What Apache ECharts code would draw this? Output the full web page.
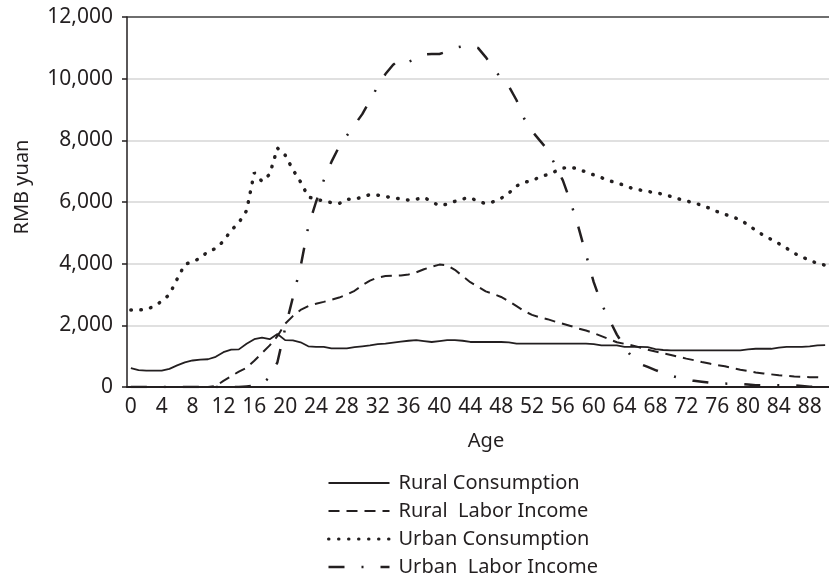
<!DOCTYPE html>
<html>
<head>
<meta charset="utf-8">
<script src="https://cdn.jsdelivr.net/npm/echarts@6/dist/echarts.min.js"></script>
<style>
  html, body { margin: 0; padding: 0; background: #fff; }
  #main { width: 829px; height: 577px; }
</style>
</head>
<body>
<div id="main"></div>
<script>
// ages 0..90
var ages = ['0','1','2','3','4','5','6','7','8','9',
  '10','11','12','13','14','15','16','17','18','19',
  '20','21','22','23','24','25','26','27','28','29',
  '30','31','32','33','34','35','36','37','38','39',
  '40','41','42','43','44','45','46','47','48','49',
  '50','51','52','53','54','55','56','57','58','59',
  '60','61','62','63','64','65','66','67','68','69',
  '70','71','72','73','74','75','76','77','78','79',
  '80','81','82','83','84','85','86','87','88','89','90'];

var seriesNames = ['Rural Consumption', 'Rural  Labor Income', 'Urban Consumption', 'Urban  Labor Income'];

var ruralCons = [610,550,530,530,530,590,700,800,860,890,
  900,980,1130,1210,1220,1400,1550,1600,1550,1720,
  1520,1510,1450,1320,1300,1300,1250,1250,1250,1290,
  1320,1350,1390,1410,1440,1470,1500,1520,1490,1460,
  1490,1520,1520,1500,1460,1460,1460,1460,1460,1450,
  1410,1405,1405,1405,1405,1405,1405,1405,1405,1405,
  1390,1350,1350,1350,1300,1300,1300,1290,1230,1200,
  1190,1190,1190,1190,1190,1190,1190,1190,1190,1190,
  1220,1240,1240,1240,1280,1300,1300,1300,1320,1350,1360];

var ruralLabor = [0,0,0,0,0,0,0,0,0,0,
  0,30,200,350,500,620,850,1100,1350,1650,
  2050,2300,2500,2620,2700,2760,2830,2900,3000,3120,
  3300,3450,3550,3600,3610,3620,3650,3720,3820,3900,
  3970,3950,3800,3600,3400,3250,3100,3020,2920,2780,
  2620,2460,2340,2260,2200,2120,2050,1980,1900,1830,
  1750,1650,1550,1450,1400,1350,1280,1210,1150,1090,
  1040,980,920,870,810,760,710,670,610,560,
  520,470,440,410,380,360,340,330,320,320,310];

var urbanCons = [2500,2500,2510,2620,2780,3000,3500,3980,4060,4180,
  4400,4490,4730,5080,5330,5720,6950,6670,6900,7750,
  7520,7050,6650,6170,6080,6040,5980,5950,6090,6090,
  6160,6240,6220,6180,6130,6100,6060,6090,6150,6010,
  5880,5930,6020,6100,6140,6020,5950,6010,6120,6290,
  6520,6640,6690,6810,6890,6990,7100,7130,7070,6970,
  6880,6790,6690,6620,6540,6440,6390,6340,6300,6250,
  6180,6100,6030,5980,5890,5800,5690,5600,5520,5420,
  5260,5080,4920,4790,4650,4500,4340,4210,4120,4000,3950];

var urbanLabor = [0,0,0,0,0,0,0,0,0,0,
  0,0,0,0,0,20,40,100,320,800,
  1900,2900,3900,5200,6000,6700,7300,7800,8150,8500,
  8850,9300,9750,10150,10450,10650,10550,10650,10780,10800,
  10800,10880,11000,11050,11080,11000,10700,10350,10000,9750,
  9300,8700,8300,8000,7700,7200,6700,6000,5200,4300,
  3400,2700,2200,1700,1300,950,750,650,550,450,
  370,300,230,200,170,140,120,110,105,100,
  80,60,55,55,55,50,50,30,10,0,0];

var ink = '#231f20';
var font = 'Noto Sans';

var myChart = echarts.init(document.getElementById('main'));

var option = {
  animation: false,
  backgroundColor: '#fff',
  textStyle: { fontFamily: font, color: ink },
  grid: { left: 127, top: 17, width: 703, height: 370, containLabel: false },
  legend: {
    orient: 'vertical',
    left: 327,
    top: 473,
    padding: 0,
    itemWidth: 61,
    itemHeight: 20,
    itemGap: 8,
    selectedMode: false,
    itemStyle: { opacity: 0 },
    textStyle: { fontFamily: font, fontSize: 20, color: ink, padding: [0, 0, 0, 4] },
    data: [
      { name: seriesNames[0], lineStyle: { width: 2 } },
      { name: seriesNames[1], lineStyle: { width: 2 } },
      { name: seriesNames[2], lineStyle: { width: 3 } },
      { name: seriesNames[3], lineStyle: { width: 2.5 } }
    ]
  },
  xAxis: {
    type: 'category',
    data: ages,
    boundaryGap: true,
    name: 'Age',
    nameLocation: 'middle',
    nameGap: 44,
    nameTextStyle: { fontFamily: font, fontSize: 20, color: ink, padding: [0, 0, 0, 16] },
    axisLine: { lineStyle: { color: ink, width: 2 } },
    axisTick: { show: false },
    axisLabel: { interval: 3, margin: 10, fontFamily: font, fontSize: 21, color: ink },
    splitLine: { show: false }
  },
  yAxis: {
    type: 'value',
    min: 0,
    max: 12000,
    interval: 2000,
    name: 'RMB yuan',
    nameLocation: 'middle',
    nameGap: 95,
    nameTextStyle: { fontFamily: font, fontSize: 20, color: ink, padding: [0, 0, 0, 30] },
    axisLine: { show: true, lineStyle: { color: ink, width: 1.5 } },
    axisTick: { show: true, inside: false, length: 5, lineStyle: { color: ink, width: 1.5 } },
    axisLabel: {
      margin: 14,
      fontFamily: font,
      fontSize: 21,
      color: ink,
      formatter: function (v) { return v.toString().replace(/\B(?=(\d{3})+(?!\d))/g, ','); }
    },
    splitLine: {
      show: true,
      lineStyle: {
        color: ['#e0e0e0', '#e0e0e0', '#e0e0e0', '#e0e0e0', '#e0e0e0', '#e0e0e0', '#6e6e6e'],
        width: 2
      }
    }
  },
  series: [
    {
      name: seriesNames[0],
      type: 'line',
      data: ruralCons,
      symbol: 'none',
      itemStyle: { color: ink },
      lineStyle: { color: ink, width: 1.8, type: 'solid' }
    },
    {
      name: seriesNames[1],
      type: 'line',
      data: ruralLabor,
      symbol: 'none',
      itemStyle: { color: ink },
      lineStyle: { color: ink, width: 2, type: [11, 7] }
    },
    {
      name: seriesNames[2],
      type: 'line',
      data: urbanCons,
      symbol: 'none',
      itemStyle: { color: ink },
      lineStyle: { color: ink, width: 3.5, type: [0.5, 9.5], cap: 'round' }
    },
    {
      name: seriesNames[3],
      type: 'line',
      data: urbanLabor,
      symbol: 'none',
      itemStyle: { color: ink },
      lineStyle: { color: ink, width: 2.5, type: [16, 17, 2, 17] }
    }
  ]
};

myChart.setOption(option);
</script>
</body>
</html>
